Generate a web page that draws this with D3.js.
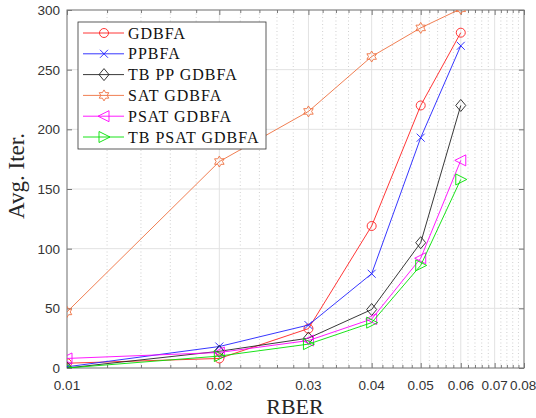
<!DOCTYPE html>
<html>
<head>
<meta charset="utf-8">
<script src="https://cdn.jsdelivr.net/npm/d3@7/dist/d3.min.js"></script>
<style>
  body { margin: 0; background: #fff; }
  svg { display: block; }
  .tick-label { font-family: "Liberation Sans", Arial, sans-serif; font-size: 13.5px; fill: #333; }
  .ax-title { font-family: "Liberation Serif", "Times New Roman", serif; fill: #262626; }
  .leg-text { font-family: "Liberation Serif", "Times New Roman", serif; font-size: 16px; letter-spacing: 1px; fill: #111; }
</style>
</head>
<body>
<svg id="chart" width="536" height="418"></svg>
<script>
// data
var rber = [0.01, 0.02, 0.03, 0.04, 0.05, 0.06];
var gdbfa      = [4, 8, 33, 119, 220, 281];
var ppbfa      = [1, 18, 36, 79, 193, 270];
var tbPpGdbfa  = [0, 14, 25, 49, 105, 220];
var satGdbfa   = [47, 173, 215, 261, 285, 301];
var psatGdbfa  = [8, 13, 23, 41, 92, 174];
var tbPsatGdbfa = [0, 10, 20, 38, 86, 158];

var xMajor = [0.01, 0.02, 0.03, 0.04, 0.05, 0.06, 0.07, 0.08];
var xMinorSteps = [0.2, 0.4, 0.6, 0.8];
var yTicks = [0, 50, 100, 150, 200, 250, 300];

var series = [
  {name: 'GDBFA', values: gdbfa, color: '#ff2020', marker: 'circle'},
  {name: 'PPBFA', values: ppbfa, color: '#2020ff', marker: 'x'},
  {name: 'TB PP GDBFA', values: tbPpGdbfa, color: '#222', marker: 'diamond'},
  {name: 'SAT GDBFA', values: satGdbfa, color: '#ee7040', marker: 'hexagram'},
  {name: 'PSAT GDBFA', values: psatGdbfa, color: '#ff00ff', marker: 'triLeft'},
  {name: 'TB PSAT GDBFA', values: tbPsatGdbfa, color: '#00e000', marker: 'triRight'}
];

var pLeft = 67, pRight = 524, pTop = 10, pBottom = 368;

var x = d3.scaleLog().domain([0.01, 0.08]).range([pLeft, pRight]);
var y = d3.scaleLinear().domain([0, 300]).range([pBottom, pTop]);

var svg = d3.select('#chart');

// minor x values: 0.012, 0.014 ... between each pair of major ticks
var xMinor = [];
for (var i = 0; i < xMajor.length - 1; i++) {
  xMinorSteps.forEach(function(s){
    xMinor.push(xMajor[i] + s * 0.01);
  });
}

// grid
var grid = svg.append('g');
grid.selectAll('.minor').data(xMinor).enter().append('line')
  .attr('x1', function(d){ return x(d); }).attr('x2', function(d){ return x(d); })
  .attr('y1', pTop).attr('y2', pBottom)
  .attr('stroke', '#c4c4c4').attr('stroke-width', 0.8).attr('stroke-dasharray', '1,2.5');
grid.selectAll('.majx').data(xMajor).enter().append('line')
  .attr('x1', function(d){ return x(d); }).attr('x2', function(d){ return x(d); })
  .attr('y1', pTop).attr('y2', pBottom)
  .attr('stroke', '#e2e2e2').attr('stroke-width', 1);
grid.selectAll('.majy').data(yTicks).enter().append('line')
  .attr('x1', pLeft).attr('x2', pRight)
  .attr('y1', function(d){ return y(d); }).attr('y2', function(d){ return y(d); })
  .attr('stroke', '#e2e2e2').attr('stroke-width', 1);

// axes with inward ticks on all sides
var axBottom = d3.axisBottom(x).tickValues(xMajor).tickSize(-5).tickFormat('');
var axTop = d3.axisTop(x).tickValues(xMajor).tickSize(-5).tickFormat('');
var axBottomMinor = d3.axisBottom(x).tickValues(xMinor).tickSize(-3).tickFormat('');
var axTopMinor = d3.axisTop(x).tickValues(xMinor).tickSize(-3).tickFormat('');
var axLeft = d3.axisLeft(y).tickValues(yTicks).tickSize(-5).tickFormat('');
var axRight = d3.axisRight(y).tickValues(yTicks).tickSize(-5).tickFormat('');

function drawAxis(axis, tx, ty){
  var g = svg.append('g').attr('transform', 'translate(' + tx + ',' + ty + ')').call(axis);
  g.select('.domain').remove();
  g.selectAll('.tick line').attr('stroke', '#555').attr('stroke-width', 0.8);
  return g;
}
drawAxis(axBottom, 0, pBottom);
drawAxis(axTop, 0, pTop);
drawAxis(axBottomMinor, 0, pBottom);
drawAxis(axTopMinor, 0, pTop);
drawAxis(axLeft, pLeft, 0);
drawAxis(axRight, pRight, 0);

// box
svg.append('rect')
  .attr('x', pLeft).attr('y', pTop).attr('width', pRight - pLeft).attr('height', pBottom - pTop)
  .attr('fill', 'none').attr('stroke', '#7a7a7a').attr('stroke-width', 1);

// tick labels (last one starts just right of 0.07 so they do not collide)
var lastX = xMajor.length - 1;
svg.selectAll('.xl').data(xMajor).enter().append('text')
  .attr('class', 'tick-label')
  .attr('x', function(d, i){ return i === lastX ? x(d) - 14 : x(d); })
  .attr('y', 390)
  .attr('text-anchor', function(d, i){ return i === lastX ? 'start' : 'middle'; })
  .text(function(d){ return d3.format('.2f')(d); });

svg.selectAll('.yl').data(yTicks).enter().append('text')
  .attr('class', 'tick-label')
  .attr('x', pLeft - 7)
  .attr('y', function(d){ return y(d) + 5; })
  .attr('text-anchor', 'end')
  .text(function(d){ return d; });

// axis titles
svg.append('text').attr('class', 'ax-title')
  .attr('x', 295).attr('y', 414)
  .attr('text-anchor', 'middle')
  .style('font-size', '22px')
  .text('RBER');

svg.append('text').attr('class', 'ax-title')
  .attr('transform', 'translate(24,176) rotate(-90)')
  .attr('text-anchor', 'middle')
  .style('font-size', '23px')
  .text('Avg. Iter.');

// marker shapes
function markerPath(kind, cx, cy){
  var p = d3.path();
  var k, a, r;
  if (kind === 'circle') {
    p.moveTo(cx + 4.5, cy);
    p.arc(cx, cy, 4.5, 0, 2 * Math.PI);
  } else if (kind === 'x') {
    p.moveTo(cx - 4, cy - 4); p.lineTo(cx + 4, cy + 4);
    p.moveTo(cx - 4, cy + 4); p.lineTo(cx + 4, cy - 4);
  } else if (kind === 'diamond') {
    p.moveTo(cx, cy - 6); p.lineTo(cx + 5, cy); p.lineTo(cx, cy + 6); p.lineTo(cx - 5, cy); p.closePath();
  } else if (kind === 'hexagram') {
    for (k = 0; k < 12; k++) {
      a = -Math.PI / 2 + k * Math.PI / 6;
      r = (k % 2 === 0) ? 5.5 : 3.2;
      if (k === 0) p.moveTo(cx + r * Math.cos(a), cy + r * Math.sin(a));
      else p.lineTo(cx + r * Math.cos(a), cy + r * Math.sin(a));
    }
    p.closePath();
  } else if (kind === 'triLeft') {
    p.moveTo(cx - 6, cy); p.lineTo(cx + 5, cy - 5.5); p.lineTo(cx + 5, cy + 5.5); p.closePath();
  } else if (kind === 'triRight') {
    p.moveTo(cx + 6, cy); p.lineTo(cx - 5, cy - 5.5); p.lineTo(cx - 5, cy + 5.5); p.closePath();
  }
  return p.toString();
}

// plot lines, clipped to the axes
svg.append('clipPath').attr('id', 'plotclip')
  .append('rect').attr('x', pLeft).attr('y', pTop).attr('width', pRight - pLeft).attr('height', pBottom - pTop);

var plot = svg.append('g').attr('clip-path', 'url(#plotclip)');
var line = d3.line()
  .x(function(d, i){ return x(rber[i]); })
  .y(function(d){ return y(d); });

series.forEach(function(s){
  plot.append('path')
    .attr('d', line(s.values))
    .attr('fill', 'none')
    .attr('stroke', s.color)
    .attr('stroke-width', 0.9);
  plot.selectAll(null).data(s.values).enter().append('path')
    .attr('d', function(d, i){ return markerPath(s.marker, x(rber[i]), y(d)); })
    .attr('fill', 'none')
    .attr('stroke', s.color)
    .attr('stroke-width', 0.9);
});

// legend
var leg = svg.append('g');
leg.append('rect')
  .attr('x', 78).attr('y', 22).attr('width', 188).attr('height', 127)
  .attr('fill', '#fff').attr('stroke', '#333').attr('stroke-width', 0.8);

series.forEach(function(s, i){
  var ly = 33 + i * 20.8;
  leg.append('line')
    .attr('x1', 83).attr('x2', 124).attr('y1', ly).attr('y2', ly)
    .attr('stroke', s.color).attr('stroke-width', 0.9);
  leg.append('path')
    .attr('d', markerPath(s.marker, 104, ly))
    .attr('fill', 'none').attr('stroke', s.color).attr('stroke-width', 0.9);
  leg.append('text').attr('class', 'leg-text')
    .attr('x', 128).attr('y', ly + 5.5)
    .text(s.name);
});
</script>
</body>
</html>
